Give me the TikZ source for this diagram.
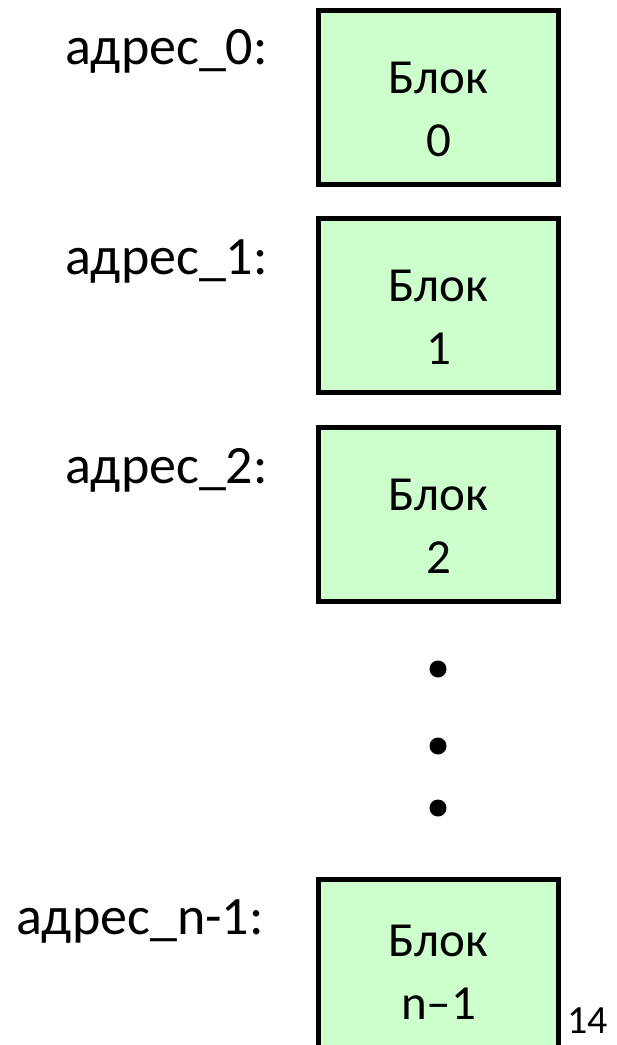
\documentclass[tikz,border=0pt]{standalone}
\usepackage{fontspec}
\setmainfont{Carlito}
\definecolor{blockfill}{RGB}{204,255,204}
\begin{document}
\begin{tikzpicture}[x=1pt,y=-1pt,
  memblock/.style={draw=black,line width=5pt,fill=blockfill,
    minimum width=240pt,minimum height=174pt,inner sep=0pt},
  blocktext/.style={align=center,inner sep=0pt,
    font=\fontsize{49}{63}\selectfont},
  addr/.style={anchor=base east,inner sep=0pt,
    font=\fontsize{54}{62}\selectfont},
  dot/.style={circle,fill=black,inner sep=0pt,minimum size=17pt}]
\clip (0,0) rectangle (617,1045);
\useasboundingbox (0,0) rectangle (617,1045);
% memory blocks
\node[memblock] (b0) at (438.5,97) {};
\node[memblock] (b1) at (438.5,305.5) {};
\node[memblock] (b2) at (438.5,514.5) {};
\node[memblock] (b3) at (438.5,966) {};
% block captions
\node[blocktext] (t0) at ([yshift=-12pt]b0.center) {Блок\\0};
\node[blocktext] (t1) at ([yshift=-12pt]b1.center) {Блок\\1};
\node[blocktext] (t2) at ([yshift=-12pt]b2.center) {Блок\\2};
\node[blocktext] (t3) at ([yshift=-6pt]b3.center) {Блок\\n–1};
% addresses
\node[addr] (a0) at (268,64) {адрес\_0:};
\node[addr] (a1) at (268,274) {адрес\_1:};
\node[addr] (a2) at (268,483) {адрес\_2:};
\node[addr] (a3) at (264,934) {адрес\_n-1:};
% ellipsis between blocks
\node[dot] (d0) at (438,669) {};
\node[dot] (d1) at (438,746) {};
\node[dot] (d2) at (438,808) {};
% page number
\node[anchor=base west,inner sep=0pt,font=\fontsize{40}{44}\selectfont] (pg) at (567,1033) {14};
\end{tikzpicture}
\end{document}
